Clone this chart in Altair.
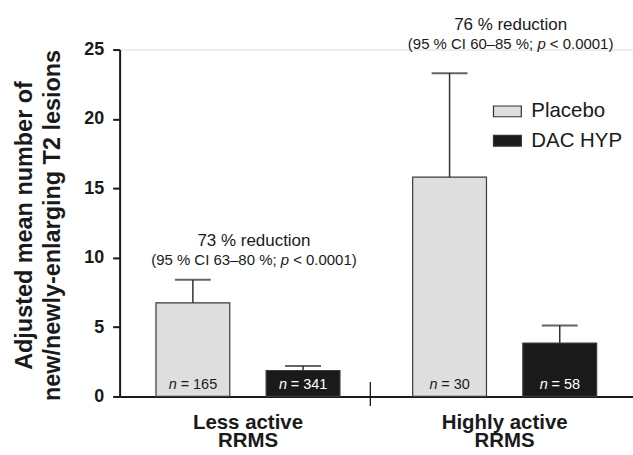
import altair as alt
import pandas as pd

# ---- data ----
groups = ["Less active RRMS", "Highly active RRMS"]
treatments = ["Placebo", "DAC HYP"]
mean_placebo = [6.75, 15.8]
mean_dac = [1.87, 3.85]
upper_placebo = [8.42, 23.3]
upper_dac = [2.2, 5.12]
n_placebo = [165, 30]
n_dac = [341, 58]
reduction_text = ["73 % reduction", "76 % reduction"]
ci_text = ["(95 % CI 63–80 %; p < 0.0001)", "(95 % CI 60–85 %; p < 0.0001)"]
reduction_y = [11.2, 26.8]
ci_y = [9.85, 25.4]

FONT = "Liberation Sans"
INK = "#1a1a1a"
FIG = "\u2007"   # figure space (digit width)
PUNC = "\u2008"  # punctuation space
ZW = "\u200b"    # zero-width guard so padding is not trimmed

rows = []
for i, g in enumerate(groups):
    for t, m, u, n in [("Placebo", mean_placebo[i], upper_placebo[i], n_placebo[i]),
                       ("DAC HYP", mean_dac[i], upper_dac[i], n_dac[i])]:
        rows.append({
            "group": g, "treatment": t, "mean": m, "upper": u,
            "n_reg": ZW + FIG + " = " + str(n),
            "n_it": "n" + PUNC + FIG + PUNC + FIG * len(str(n)) + ZW,
        })
df = pd.DataFrame(rows)

ann = pd.DataFrame({
    "group": groups,
    "red": reduction_text,
    "red_y": reduction_y,
    "ci": [c.replace("; p <", "; " + FIG + " <") for c in ci_text],
    "ci_y": ci_y,
})

W, H = 515, 348

xscale = alt.Scale(domain=groups, paddingInner=0, paddingOuter=0)
yscale = alt.Scale(domain=[0, 25], nice=False)
offscale = alt.Scale(domain=treatments, paddingInner=0.33, paddingOuter=0.33)

x_enc = alt.X(
    "group:N", scale=xscale, sort=groups,
    axis=alt.Axis(
        title=None, ticks=False, domainWidth=2, domainColor=INK,
        labelFont=FONT, labelFontSize=20.5, labelFontWeight="bold", labelColor=INK,
        labelAngle=0, labelPadding=16, labelLineHeight=18.5,
        labelExpr="[replace(datum.label, ' RRMS', ''), 'RRMS']",
    ),
)
xo = alt.XOffset("treatment:N", scale=offscale, sort=treatments)

y_axis = alt.Axis(
    values=[0, 5, 10, 15, 20, 25], grid=False,
    title=["Adjusted mean number of", "new/newly-enlarging T2 lesions"],
    titleFont=FONT, titleFontSize=23.5, titleFontWeight="bold", titleColor=INK,
    titleAngle=270, titleAlign="center", titleBaseline="middle",
    titleX=-95, titleY=176, titleLineHeight=28,
    labelFont=FONT, labelFontSize=18, labelFontWeight="bold", labelColor=INK,
    labelPadding=9, tickSize=7, tickWidth=2, tickColor=INK,
    domainWidth=2, domainColor=INK,
)

base = alt.Chart(df)

bars = base.mark_bar(stroke="#3a3a3a", strokeWidth=1.2).encode(
    x=x_enc, xOffset=xo,
    y=alt.Y("mean:Q", scale=yscale, axis=y_axis),
    color=alt.Color(
        "treatment:N",
        scale=alt.Scale(domain=treatments, range=["#dedede", INK]),
        legend=alt.Legend(
            title=None, orient="none", legendX=374, legendY=47,
            symbolType="M-1,-0.387H1V0.387H-1Z", symbolSize=780,
            symbolStrokeColor="#333333", symbolStrokeWidth=1.2, symbolOpacity=1,
            labelFont=FONT, labelFontSize=20.5, labelColor=INK,
            labelOffset=9, rowPadding=3.5, padding=0,
        ),
    ),
)

err = base.mark_rule(color="#333333", strokeWidth=1.5).encode(
    x=alt.X("group:N", scale=xscale, sort=groups), xOffset=xo,
    y=alt.Y("mean:Q", scale=yscale), y2="upper:Q",
)

caps = base.mark_tick(color="#222222", thickness=2, size=36).encode(
    x=alt.X("group:N", scale=xscale, sort=groups), xOffset=xo,
    y=alt.Y("upper:Q", scale=yscale),
)

ncolor = alt.condition(alt.datum.treatment == "DAC HYP", alt.value("white"), alt.value(INK))

n_reg = base.mark_text(font=FONT, fontSize=14.5, baseline="alphabetic", dy=-7).encode(
    x=alt.X("group:N", scale=xscale, sort=groups), xOffset=xo,
    y=alt.datum(0), text="n_reg:N", color=ncolor,
)
n_it = base.mark_text(font=FONT, fontSize=14.5, fontStyle="italic", baseline="alphabetic", dy=-7).encode(
    x=alt.X("group:N", scale=xscale, sort=groups), xOffset=xo,
    y=alt.datum(0), text="n_it:N", color=ncolor,
)

abase = alt.Chart(ann)
DX = 6
red = abase.mark_text(font=FONT, fontSize=17, baseline="middle", dx=DX, color=INK).encode(
    x=alt.X("group:N", scale=xscale, sort=groups),
    y=alt.Y("red_y:Q", scale=yscale), text="red:N",
)
ci = abase.mark_text(font=FONT, fontSize=15, baseline="middle", dx=DX, color=INK).encode(
    x=alt.X("group:N", scale=xscale, sort=groups),
    y=alt.Y("ci_y:Q", scale=yscale), text="ci:N",
)
ci_p = abase.mark_text(font=FONT, fontSize=15, fontStyle="italic", baseline="middle", align="left",
                       dx=DX + (8.671 - 13.758 / 2) * 15, color=INK).encode(
    x=alt.X("group:N", scale=xscale, sort=groups),
    y=alt.Y("ci_y:Q", scale=yscale), text=alt.value("p"),
)

divider = alt.Chart(pd.DataFrame({"group": [groups[1]]})).mark_rule(color=INK, strokeWidth=1.3).encode(
    x=alt.X("group:N", scale=xscale, sort=groups, bandPosition=0),
    xOffset=alt.value(-6),
    y=alt.value(H - 14.5), y2=alt.value(H + 9.5),
)

chart = alt.layer(bars, err, caps, n_reg, n_it, red, ci, ci_p, divider).properties(
    width=W, height=H,
    padding={"left": 120, "top": 49, "right": 0, "bottom": 58},
    autosize=alt.AutoSizeParams(type="none"),
).configure_view(stroke=None).configure(background="white")

chart.save("out.html", embed_options={"renderer": "svg", "actions": False})
